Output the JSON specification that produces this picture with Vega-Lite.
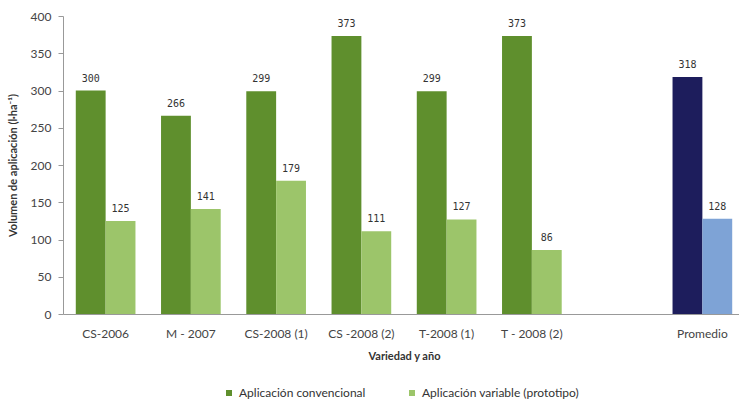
{
  "$schema": "https://vega.github.io/schema/vega-lite/v6.json",
  "autosize": "none",
  "width": 676,
  "height": 298,
  "padding": {"left": 63, "top": 16, "right": 0, "bottom": 91},
  "background": "white",
  "config": {
    "font": "Lato",
    "view": {"stroke": null},
    "legend": {"layout": {"bottom": {"anchor": "middle"}}}
  },
  "data": {
    "values": [
      {"cat": "CS-2006", "serie": "conv", "grupo": "Aplicación convencional", "valor": 300},
      {"cat": "CS-2006", "serie": "var", "grupo": "Aplicación variable (prototipo)", "valor": 125},
      {"cat": "M - 2007", "serie": "conv", "grupo": "Aplicación convencional", "valor": 266},
      {"cat": "M - 2007", "serie": "var", "grupo": "Aplicación variable (prototipo)", "valor": 141},
      {"cat": "CS-2008 (1)", "serie": "conv", "grupo": "Aplicación convencional", "valor": 299},
      {"cat": "CS-2008 (1)", "serie": "var", "grupo": "Aplicación variable (prototipo)", "valor": 179},
      {"cat": "CS -2008 (2)", "serie": "conv", "grupo": "Aplicación convencional", "valor": 373},
      {"cat": "CS -2008 (2)", "serie": "var", "grupo": "Aplicación variable (prototipo)", "valor": 111},
      {"cat": "T-2008 (1)", "serie": "conv", "grupo": "Aplicación convencional", "valor": 299},
      {"cat": "T-2008 (1)", "serie": "var", "grupo": "Aplicación variable (prototipo)", "valor": 127},
      {"cat": "T - 2008 (2)", "serie": "conv", "grupo": "Aplicación convencional", "valor": 373},
      {"cat": "T - 2008 (2)", "serie": "var", "grupo": "Aplicación variable (prototipo)", "valor": 86},
      {"cat": "Promedio", "serie": "conv", "grupo": "Promedio convencional", "valor": 318},
      {"cat": "Promedio", "serie": "var", "grupo": "Promedio variable", "valor": 128}
    ]
  },
  "encoding": {
    "x": {
      "field": "cat", "type": "nominal",
      "scale": {
        "domain": ["CS-2006", "M - 2007", "CS-2008 (1)", "CS -2008 (2)", "T-2008 (1)", "T - 2008 (2)", " ", "Promedio"],
        "range": [0, 682],
        "paddingInner": 0.3, "paddingOuter": 0.15
      },
      "axis": {
        "title": "Variedad y año", "labelAngle": 0, "ticks": false,
        "labelFontSize": 12, "labelColor": "#444", "labelPadding": 14,
        "domainColor": "#999", "titleFontSize": 11, "titleFontWeight": "bold",
        "titleColor": "#333", "titlePadding": 11
      }
    },
    "xOffset": {"field": "serie", "type": "nominal", "scale": {"domain": ["conv", "var"], "paddingInner": 0}},
    "y": {
      "field": "valor", "type": "quantitative",
      "scale": {"domain": [0, 400], "nice": false},
      "axis": {
        "title": "Volumen de aplicación (l·ha⁻¹)", "values": [0, 50, 100, 150, 200, 250, 300, 350, 400],
        "grid": false, "labelFontSize": 12, "labelColor": "#444", "domainColor": "#999",
        "tickColor": "#999", "tickSize": 5, "labelPadding": 7,
        "titleFontSize": 11, "titleFontWeight": "bold", "titleColor": "#333", "titlePadding": 12
      }
    }
  },
  "layer": [
    {
      "mark": {"type": "bar"},
      "encoding": {
        "color": {
          "field": "grupo", "type": "nominal",
          "scale": {
            "domain": ["Aplicación convencional", "Aplicación variable (prototipo)", "Promedio convencional", "Promedio variable"],
            "range": ["#5f8f2d", "#9cc56a", "#1d1d5c", "#7ea3d6"]
          },
          "legend": {
            "title": null, "orient": "bottom", "direction": "horizontal",
            "values": ["Aplicación convencional", "Aplicación variable (prototipo)"],
            "symbolType": "square", "symbolSize": 36, "labelFontSize": 12, "labelColor": "#333",
            "labelOffset": 4, "columnPadding": 40, "offset": 26
          }
        }
      }
    },
    {
      "mark": {"type": "text", "baseline": "bottom", "dy": -7, "fontSize": 10, "color": "#333", "font": "DejaVu Sans Mono"},
      "encoding": {"text": {"field": "valor", "type": "quantitative"}}
    }
  ]
}
